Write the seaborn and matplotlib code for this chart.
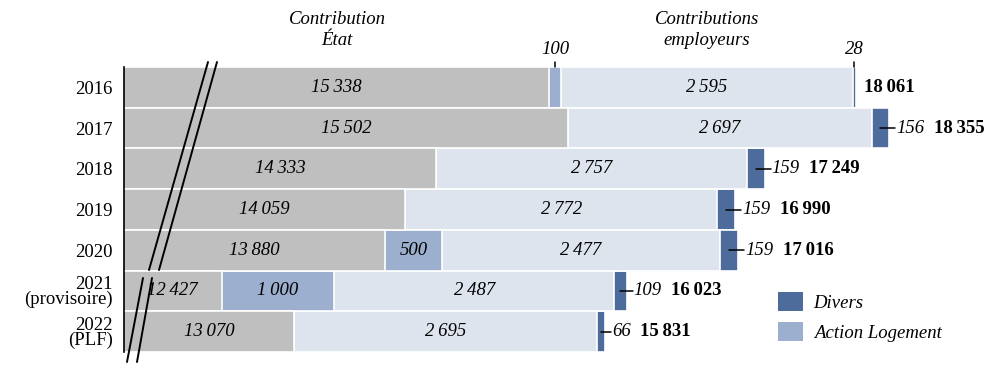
import numpy as np
import pandas as pd
import matplotlib
matplotlib.use("Agg")
import matplotlib.pyplot as plt
from matplotlib.lines import Line2D
from matplotlib.patches import Patch
import seaborn as sns

# Données (M€)
years = ["2016", "2017", "2018", "2019", "2020", "2021\n(provisoire)", "2022\n(PLF)"]
etat = [15338, 15502, 14333, 14059, 13880, 12427, 13070]
action_logement = [100, 0, 0, 0, 500, 1000, 0]
employeurs = [2595, 2697, 2757, 2772, 2477, 2487, 2695]
divers = [28, 156, 159, 159, 159, 109, 66]
totals = [18061, 18355, 17249, 16990, 17016, 16023, 15831]

c_etat = "#bfbfbf"
c_al = "#9dafce"
c_emp = "#dee4ee"
c_div = "#4e6c9b"

X_MIN, X_MAX = 11560, 19340


def fmt(v):
    return f"{v:,}".replace(",", "\u2009")


df = pd.DataFrame({"annee": years, "etat": etat, "al": action_logement,
                   "emp": employeurs, "divers": divers, "total": totals})
df["c_al"] = df["etat"] + df["al"]
df["c_emp"] = df["c_al"] + df["emp"]
df["c_div"] = df["c_emp"] + df["divers"]

sns.set_style("white")
plt.rcParams["font.family"] = ["Liberation Serif", "DejaVu Serif"]
plt.rcParams["text.color"] = "black"
plt.rcParams["ytick.color"] = "black"
plt.rcParams["axes.labelcolor"] = "black"

fig = plt.figure(figsize=(10, 3.66), dpi=100)
ax = fig.add_axes([0.124, (366 - 352) / 366, 0.876, (352 - 67) / 366])

# barres empilées : on dessine les cumuls du plus long au plus court
for col, colr in [("c_div", c_div), ("c_emp", c_emp), ("c_al", c_al), ("etat", c_etat)]:
    sns.barplot(data=df, x=col, y="annee", color=colr, saturation=1, width=1.0,
                errorbar=None, edgecolor="white", linewidth=1.2, ax=ax, orient="h")

ax.set_xlim(X_MIN, X_MAX)
ax.set_ylim(len(years) - 0.5, -0.5)
ax.set_xlabel("")
ax.set_ylabel("")
ax.set_xticks([])
for s in ["top", "right", "bottom"]:
    ax.spines[s].set_visible(False)
ax.spines["left"].set_color("black")
ax.spines["left"].set_linewidth(1.2)

fs = 13.5
ax.tick_params(axis="y", length=0, pad=8, labelsize=fs, labelcolor="black")
for lab in ax.get_yticklabels():
    lab.set_linespacing(0.85)

px = (X_MAX - X_MIN) / (0.876 * 1000)  # unités par pixel

for i, row in df.iterrows():
    # Contribution État (partie visible)
    ax.text((X_MIN + row["etat"]) / 2, i, fmt(row["etat"]), ha="center", va="center",
            style="italic", fontsize=fs)
    if row["al"] >= 300:
        ax.text(row["etat"] + row["al"] / 2, i, fmt(row["al"]), ha="center", va="center",
                style="italic", fontsize=fs)
    ax.text(row["c_al"] + row["emp"] / 2, i, fmt(row["emp"]), ha="center", va="center",
            style="italic", fontsize=fs)
    end = row["c_div"]
    if i == 0:
        ax.text(end + 8 * px, i, fmt(row["total"]), ha="left", va="center",
                fontweight="bold", fontsize=fs)
        # petites valeurs au-dessus de la barre
        for xc, v in [(row["etat"] + row["al"] / 2, row["al"]),
                      (row["c_emp"] + row["divers"] / 2, row["divers"])]:
            ax.plot([xc, xc], [-0.5, -0.62], color="black", lw=1.1, clip_on=False)
            ax.text(xc, -0.72, fmt(v), ha="center", va="bottom", style="italic", fontsize=fs)
    else:
        xc = row["c_emp"] + row["divers"] / 2
        ax.plot([xc, end + 6 * px], [i, i], color="black", lw=1.1, clip_on=False)
        lab = ax.text(end + 7 * px, i, fmt(row["divers"]), ha="left", va="center",
                      style="italic", fontsize=fs)
        ax.annotate(fmt(row["total"]), xy=(1, 0.5), xycoords=lab, xytext=(7, 0),
                    textcoords="offset points", ha="left", va="center",
                    fontweight="bold", fontsize=fs)

# titres des séries
fig.text(337 / 1000, 1 - 30 / 366, "Contribution\nÉtat", ha="center", va="center",
         style="italic", fontsize=fs, linespacing=1.3)
fig.text(707 / 1000, 1 - 30 / 366, "Contributions\nemployeurs", ha="center", va="center",
         style="italic", fontsize=fs, linespacing=1.3)

# marques de rupture d'axe
W, H = 1000, 366
for (x0, y0, x1, y1) in [(208, 62, 149, 270), (217, 62, 159, 270),
                         (143, 278, 127, 362), (152, 278, 137, 362)]:
    fig.add_artist(Line2D([x0 / W, x1 / W], [1 - y0 / H, 1 - y1 / H],
                          transform=fig.transFigure, color="black", lw=1.4))

handles = [Patch(facecolor=c_div, edgecolor="none", label="Divers"),
           Patch(facecolor=c_al, edgecolor="none", label="Action Logement")]
fig.legend(handles=handles, loc="upper left", bbox_to_anchor=(0.778, 1 - 292 / 366),
           frameon=False, borderpad=0, borderaxespad=0, handlelength=1.35,
           handleheight=1.2, handletextpad=0.55, labelspacing=0.55,
           prop={"style": "italic", "size": fs})

fig.savefig("out.png", dpi=100)
